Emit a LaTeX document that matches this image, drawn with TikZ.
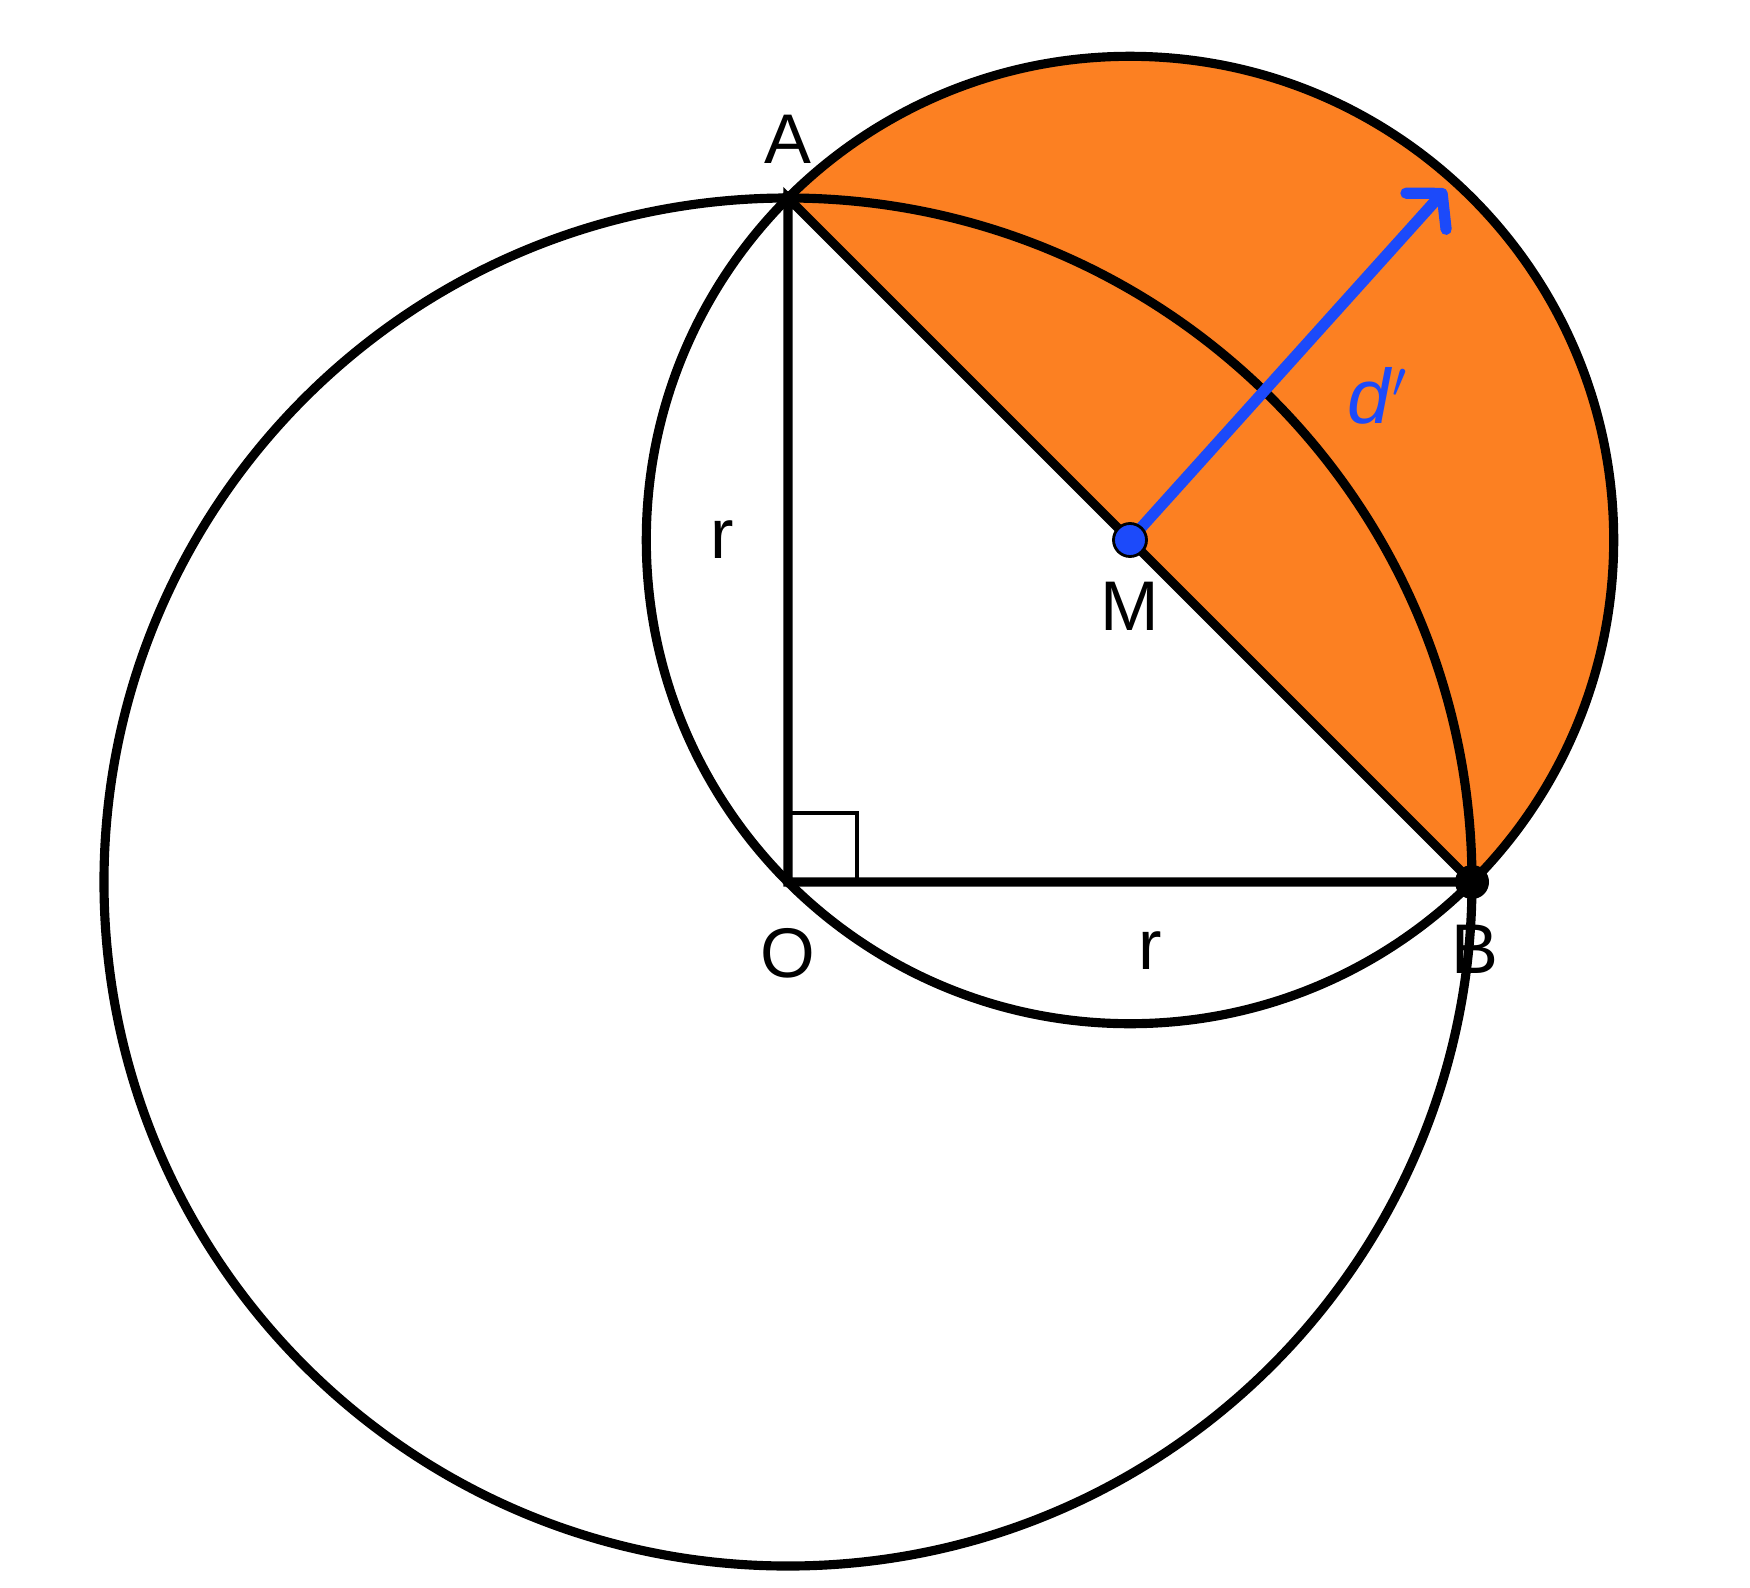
\documentclass[tikz,border=0pt]{standalone}
\usepackage{fontspec}
\setmainfont{Liberation Sans}
\usetikzlibrary{arrows.meta,positioning}
\definecolor{lunefill}{RGB}{252,128,34}
\definecolor{radblue}{RGB}{28,74,250}

\begin{document}
\begin{tikzpicture}[
    line width=2.6pt,
    lbl/.style={inner sep=0pt, font=\fontsize{20}{24}\selectfont},
    ptdot/.style={circle, fill=black, inner sep=0pt, minimum size=#1},
    rightmark/.style={line width=1.1pt}
]
\useasboundingbox (-7.88,-7.05) rectangle (9.62,8.82);
% points
\coordinate (O) at (0,0);
\coordinate (A) at (0,6.84);
\coordinate (B) at (6.84,0);
\coordinate (M) at (3.42,3.42);
\coordinate (mOA) at (0,3.42);
\coordinate (mOB) at (3.42,0);
\path (M) ++(48:4.72) coordinate (D);

% shaded half disk over AB
\fill[lunefill] (A) arc[start angle=135, end angle=-45, radius=4.837] -- cycle;

% circles
\draw (O) circle[radius=6.84];
\draw (M) circle[radius=4.837];

% triangle
\draw (A) -- (O) -- (B) -- cycle;
\draw[rightmark] (0,0.69) -| (0.69,0);

% radius d'
\draw[radblue, line width=3.2pt, line cap=round,
      -{Straight Barb[length=2.4mm, width=5.4mm, round]}] (M) -- (D);

% dots
\node[ptdot=1.4mm] (dA) at (A) {};
\node[ptdot=3.4mm] (dB) at (B) {};
\node[circle, fill=radblue, draw=black, line width=0.8pt,
      inner sep=0pt, minimum size=3.3mm] (dM) at (M) {};

% labels
\node[lbl, above=0.3 of A] (labA) {A};
\node[lbl, below=0.42 of O] (labO) {O};
\node[lbl, below=0.39 of B, xshift=0.03cm] (labB) {B};
\node[lbl, below=0.38 of M] (labM) {M};
\node[lbl, left=0.5 of mOA] (labr1) {r};
\node[lbl, below=0.45 of mOB, xshift=0.2cm] (labr2) {r};
\node[lbl, radblue, font=\fontsize{22}{26}\selectfont] (labd) at (5.9,4.86) {\textit{d}$'$};
\end{tikzpicture}
\end{document}
